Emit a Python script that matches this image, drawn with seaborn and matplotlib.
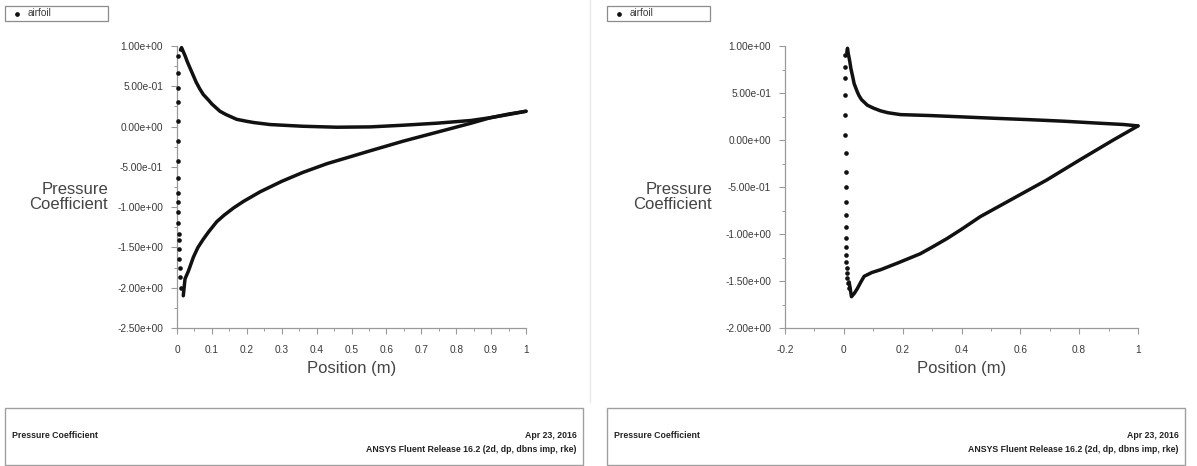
import matplotlib
matplotlib.use("Agg")
import numpy as np
import pandas as pd
import matplotlib.pyplot as plt
import seaborn as sns
from matplotlib.patches import Rectangle
from matplotlib.lines import Line2D
from matplotlib.ticker import FixedLocator, MultipleLocator, FuncFormatter

# ---------------- data: left panel ----------------
left_lower_x = [0.010, 0.013, 0.017, 0.023, 0.030, 0.037, 0.045, 0.055, 0.065, 0.075,
                0.090, 0.100, 0.123, 0.140, 0.171, 0.200, 0.220, 0.267, 0.360, 0.458,
                0.554, 0.649, 0.745, 0.841, 0.898, 0.950, 1.000]
left_lower_cp = [0.95, 0.98, 0.94, 0.88, 0.80, 0.73, 0.65, 0.55, 0.47, 0.40,
                 0.33, 0.28, 0.19, 0.15, 0.09, 0.065, 0.05, 0.025, 0.004, -0.008,
                 -0.004, 0.017, 0.042, 0.075, 0.11, 0.15, 0.19]

left_upper_x = [0.018, 0.023, 0.028, 0.033, 0.047, 0.060, 0.075, 0.090, 0.114, 0.135,
                0.162, 0.190, 0.238, 0.300, 0.360, 0.430, 0.500, 0.554, 0.649, 0.745,
                0.841, 0.898, 0.950, 1.000]
left_upper_cp = [-2.10, -1.89, -1.84, -1.79, -1.62, -1.50, -1.40, -1.31, -1.18, -1.10,
                 -1.01, -0.93, -0.81, -0.68, -0.57, -0.46, -0.37, -0.30, -0.18, -0.07,
                 0.04, 0.11, 0.155, 0.19]

left_le_x = [0.002, 0.002, 0.002, 0.002, 0.002, 0.002, 0.003, 0.003, 0.003, 0.003,
             0.004, 0.004, 0.005, 0.005, 0.006, 0.007, 0.008, 0.010, 0.012]
left_le_cp = [0.88, 0.67, 0.48, 0.30, 0.07, -0.18, -0.43, -0.64, -0.83, -0.93,
              -1.06, -1.20, -1.33, -1.41, -1.52, -1.64, -1.75, -1.87, -2.00]

# ---------------- data: right panel ----------------
right_lower_x = [0.010, 0.0125, 0.015, 0.020, 0.024, 0.029, 0.035, 0.046, 0.052, 0.060,
                 0.070, 0.080, 0.100, 0.125, 0.150, 0.193, 0.295, 0.408, 0.520, 0.634,
                 0.747, 0.860, 0.950, 1.000]
right_lower_cp = [0.93, 0.976, 0.92, 0.84, 0.76, 0.69, 0.60, 0.51, 0.47, 0.43,
                  0.40, 0.37, 0.34, 0.31, 0.29, 0.27, 0.26, 0.245, 0.23, 0.216,
                  0.20, 0.18, 0.165, 0.15]

right_upper_x = [0.018, 0.026, 0.036, 0.046, 0.058, 0.069, 0.095, 0.125, 0.182, 0.260,
                 0.300, 0.350, 0.400, 0.464, 0.577, 0.690, 0.803, 0.916, 1.000]
right_upper_cp = [-1.51, -1.667, -1.63, -1.58, -1.51, -1.45, -1.41, -1.38, -1.31, -1.21,
                  -1.14, -1.05, -0.95, -0.815, -0.62, -0.425, -0.21, 0.0, 0.15]

right_le_x = [0.005, 0.005, 0.005, 0.005, 0.005, 0.005, 0.006, 0.006, 0.006, 0.006,
              0.007, 0.007, 0.007, 0.008, 0.008, 0.009, 0.010, 0.011, 0.012, 0.014, 0.016]
right_le_cp = [0.904, 0.78, 0.656, 0.479, 0.266, 0.053, -0.142, -0.337, -0.496, -0.656,
               -0.798, -0.922, -1.046, -1.135, -1.223, -1.294, -1.365, -1.418, -1.472,
               -1.525, -1.578]

# ---------------- axis ticks ----------------
left_xticks = [0.0, 0.1, 0.2, 0.3, 0.4, 0.5, 0.6, 0.7, 0.8, 0.9, 1.0]
left_yticks = [1.0, 0.5, 0.0, -0.5, -1.0, -1.5, -2.0, -2.5]
right_xticks = [-0.2, 0.0, 0.2, 0.4, 0.6, 0.8, 1.0]
right_yticks = [1.0, 0.5, 0.0, -0.5, -1.0, -1.5, -2.0]

legend_label = "airfoil"
footer_title = "Pressure Coefficient"
footer_date = "Apr 23, 2016"
footer_release = "ANSYS Fluent Release 16.2 (2d, dp, dbns imp, rke)"

sns.set_theme(style="white")
plt.rcParams['font.family'] = ['Liberation Sans', 'DejaVu Sans']

W, H = 1197, 466
fig = plt.figure(figsize=(W / 100, H / 100), dpi=100)
fig.patch.set_facecolor("white")

INK = "#111111"
SPINE = "#9a9a9a"
TEXT = "#3a3a3a"


def px_axes(left, top, right, bottom):
    return fig.add_axes([left / W, 1 - bottom / H, (right - left) / W, (bottom - top) / H])


def draw_panel(ax, lower, upper, le, xlim, ylim, xticks, yticks, xminor, yminor,
               ylab_x, ylab_y, xlab_y):
    for xs, ys in (lower, upper):
        df = pd.DataFrame({"x": xs, "cp": ys})
        sns.lineplot(data=df, x="x", y="cp", sort=False, estimator=None, ax=ax,
                     color=INK, linewidth=2.5, solid_capstyle="round",
                     solid_joinstyle="round", clip_on=False)
    dots = pd.DataFrame({"x": le[0], "cp": le[1]})
    sns.scatterplot(data=dots, x="x", y="cp", ax=ax, color=INK, s=11, linewidth=0,
                    clip_on=False, zorder=5)

    ax.set_xlim(*xlim)
    ax.set_ylim(*ylim)
    ax.xaxis.set_major_locator(FixedLocator(xticks))
    ax.yaxis.set_major_locator(FixedLocator(yticks))
    ax.xaxis.set_minor_locator(MultipleLocator(xminor))
    ax.yaxis.set_minor_locator(MultipleLocator(yminor))
    ax.xaxis.set_major_formatter(FuncFormatter(lambda v, p: f"{v:g}" if abs(v) > 1e-9 else "0"))
    ax.yaxis.set_major_formatter(FuncFormatter(lambda v, p: f"{v:.2e}" if abs(v) > 1e-9 else "0.00e+00"))

    for side in ("top", "right"):
        ax.spines[side].set_visible(False)
    for side in ("left", "bottom"):
        ax.spines[side].set_color(SPINE)
        ax.spines[side].set_linewidth(0.9)

    ax.tick_params(axis="both", which="major", direction="out", length=4, width=0.8,
                   color=SPINE, labelsize=7.3, labelcolor=TEXT, left=True, bottom=True)
    ax.tick_params(axis="x", which="major", pad=8)
    ax.tick_params(axis="y", which="major", pad=6)
    ax.tick_params(axis="both", which="minor", direction="out", length=2.5, width=0.7,
                   color=SPINE, left=True, bottom=True)

    ax.set_xlabel("Position (m)", fontsize=12, color="#444444")
    ax.xaxis.set_label_coords(0.5, xlab_y)
    ax.xaxis.label.set_va("center")
    ax.set_ylabel("Pressure\nCoefficient", fontsize=12, color="#444444", rotation=0,
                  ha="right", va="center", multialignment="right", linespacing=1.05)
    ax.yaxis.set_label_coords(ylab_x, ylab_y)
    ax.set_facecolor("white")
    ax.grid(False)


# left panel axes: x 0..1 spans px 177..526, y -2.5..1 spans px 328..46
ax1 = px_axes(177, 46, 526, 328)
draw_panel(ax1, (left_lower_x, left_lower_cp), (left_upper_x, left_upper_cp),
           (left_le_x, left_le_cp), (0.0, 1.0), (-2.5, 1.0),
           left_xticks, left_yticks, 0.05, 0.25,
           ylab_x=(108 - 177) / (526 - 177), ylab_y=(328 - 197) / (328 - 46),
           xlab_y=(328 - 368) / (328 - 46))

# right panel axes: x -0.2..1 spans px 785..1138, y -2..1 spans px 328..46
ax2 = px_axes(785, 46, 1138, 328)
draw_panel(ax2, (right_lower_x, right_lower_cp), (right_upper_x, right_upper_cp),
           (right_le_x, right_le_cp), (-0.2, 1.0), (-2.0, 1.0),
           right_xticks, right_yticks, 0.1, 0.25,
           ylab_x=(712 - 785) / (1138 - 785), ylab_y=(328 - 197) / (328 - 46),
           xlab_y=(328 - 368) / (328 - 46))


def fig_rect(x0, y0, x1, y1, **kw):
    fig.patches.append(Rectangle((x0 / W, 1 - y1 / H), (x1 - x0) / W, (y1 - y0) / H,
                                 transform=fig.transFigure, fill=False, **kw))


def fig_text(x, y, s, **kw):
    fig.text(x / W, 1 - y / H, s, **kw)


# faint separator between the two plot windows
fig.add_artist(Line2D([590 / W, 590 / W], [1 - 402 / H, 1.0], transform=fig.transFigure,
                      color="#e8e8e8", linewidth=1.0))

for x0 in (0, 602):
    # legend box
    fig_rect(x0 + 5, 6, x0 + 108, 21, edgecolor="#8c8c8c", linewidth=0.9)
    fig.add_artist(Line2D([(x0 + 17) / W], [1 - 13.5 / H], transform=fig.transFigure,
                          marker="o", markersize=2.4, color=INK, linestyle="none"))
    fig_text(x0 + 28, 13.5, legend_label, fontsize=7.2, color=TEXT, va="center", ha="left")

    # footer box
    fig_rect(x0 + 5, 408, x0 + 583, 464.5, edgecolor="#a0a0a0", linewidth=1.0)
    fig_text(x0 + 12, 436, footer_title, fontsize=6.3, fontweight="bold",
             color="#222222", va="center", ha="left")
    fig_text(x0 + 577, 436, footer_date, fontsize=6.3, fontweight="bold",
             color="#222222", va="center", ha="right")
    fig_text(x0 + 577, 449, footer_release, fontsize=6.3, fontweight="bold",
             color="#222222", va="center", ha="right")

fig.savefig("out.png", dpi=100, facecolor="white")
